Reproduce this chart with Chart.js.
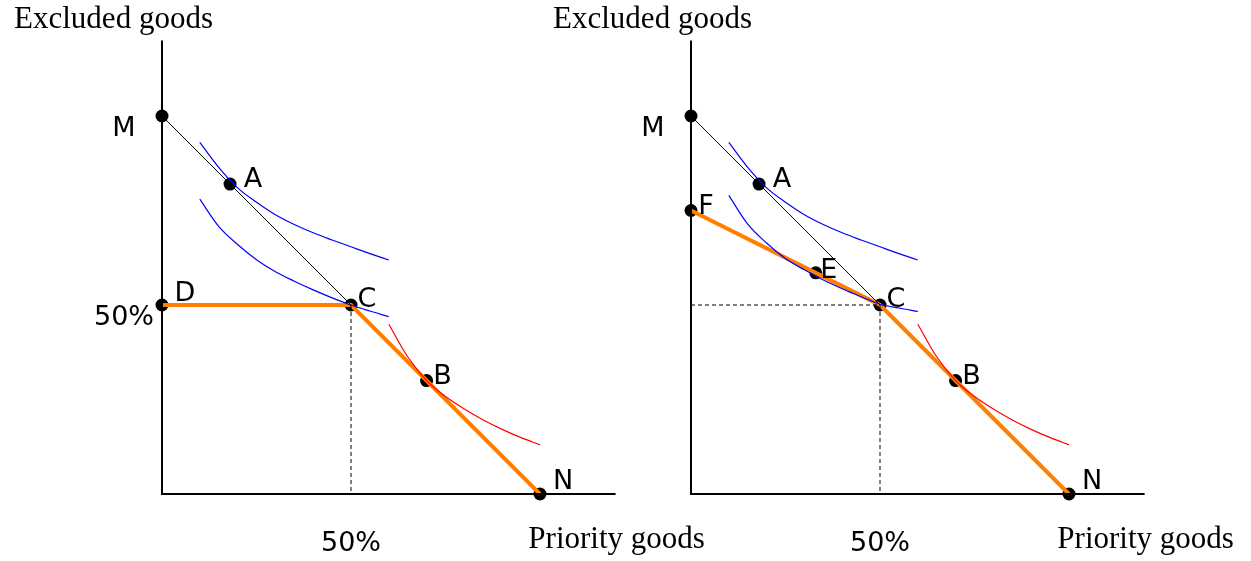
<!DOCTYPE html>
<html lang="en">
<head>
<meta charset="UTF-8">
<title>Excluded vs priority goods</title>
<script src="https://cdn.jsdelivr.net/npm/chart.js"></script>
<style>
    body { margin: 0; background: #ffffff; width: 1251px; height: 561px; position: relative; overflow: hidden; }
    canvas { position: absolute; top: 0; }
    #leftChart { left: 0; }
    #rightChart { left: 529px; }
</style>
</head>
<body>
<canvas id="leftChart" width="722" height="561"></canvas>
<canvas id="rightChart" width="722" height="561"></canvas>
<script>
// axis range (share of goods, %)
const axisMax = 120;
const yAxisTitle = 'Excluded goods';
const xAxisTitle = 'Priority goods';
const tickLabel = '50%';
const tickValue = 50;

// labelled points, left panel
const leftNames = ['M', 'A', 'D', 'C', 'B', 'N'];
const leftX = [0, 18, 0, 50, 70, 100];
const leftY = [100, 82, 50, 50, 30, 0];

// labelled points, right panel
const rightNames = ['M', 'A', 'F', 'E', 'C', 'B', 'N'];
const rightX = [0, 18, 0, 33, 50, 70, 100];
const rightY = [100, 82, 75, 58.5, 50, 30, 0];

// indifference curves
const blueX = [10, 15, 20, 25, 30, 35, 40, 45, 50, 55, 60];
const upperBlueY = [93, 86.4, 81, 77.2, 73.9, 71.3, 69.1, 67.2, 65.4, 63.6, 61.9];
const lowerBlueLeftY = [78, 70.8, 66, 62, 58.8, 56.3, 54, 51.9, 50, 48.4, 46.9];
const lowerBlueRightY = [79, 71.4, 66.4, 62.3, 59.3, 56.6, 54.3, 52.2, 50.2, 49.2, 48.3];
const redX = [60, 65, 70, 75, 80, 85, 90, 95, 100];
const redY = [44.9, 36.3, 30, 25.8, 22.5, 19.6, 17.1, 14.9, 13];

function pts(xs, ys) {
    return xs.map((x, i) => ({ x: x, y: ys[i] }));
}
function pick(names, xs, ys, wanted) {
    return wanted.map(n => { const i = names.indexOf(n); return { x: xs[i], y: ys[i] }; });
}

const blk = '#000000';
const orange = '#ff8000';

function lineSet(data, color, width, extra) {
    return Object.assign({
        type: 'line', data: data, borderColor: color, borderWidth: width,
        pointRadius: 0, fill: false, tension: 0, clip: false
    }, extra || {});
}

const labelPlugin = {
    id: 'labels',
    afterDatasetsDraw(chart) {
        const o = chart.options.plugins.labels;
        const xs = chart.scales.x, ys = chart.scales.y;
        const ctx = chart.ctx;
        ctx.save();
        ctx.fillStyle = '#000';
        ctx.textAlign = 'center';
        ctx.textBaseline = 'middle';
        ctx.font = '27px "DejaVu Sans"';
        o.names.forEach((n, i) => {
            const off = o.offsets[n];
            ctx.fillText(n, xs.getPixelForValue(o.xs[i]) + off[0], ys.getPixelForValue(o.ys[i]) + off[1]);
        });
        // tick labels
        ctx.fillText(tickLabel, xs.getPixelForValue(tickValue), ys.getPixelForValue(0) + 50);
        if (o.yTick) {
            ctx.fillText(tickLabel, xs.getPixelForValue(0) - 38, ys.getPixelForValue(tickValue) + 13);
        }
        // axis titles
        ctx.font = '31px "Liberation Serif"';
        ctx.fillText(yAxisTitle, xs.getPixelForValue(0) + o.yTitleDx, 20);
        ctx.fillText(xAxisTitle, xs.getPixelForValue(axisMax) + 1, ys.getPixelForValue(0) + 46);
        ctx.restore();
    }
};

const offsets = {
    M: [-38, 13], A: [23, -4], D: [23, -11], C: [16, -5], B: [16, -4],
    N: [23, -12], F: [15, -4], E: [13, -2]
};

const curveOpts = { cubicInterpolationMode: 'monotone' };

function makePanel(id, names, xs, ys, orangePath, dashed, lowerY, yTick, yTitleDx) {
    const datasets = [
        lineSet(pts([0, 0, axisMax], [axisMax, 0, 0]), blk, 2),
        lineSet(dashed, blk, 1, { borderDash: [4, 3] }),
        lineSet(pick(names, xs, ys, ['M', 'C']), blk, 1),
        lineSet(pts(blueX, upperBlueY), '#0000ff', 1.2, curveOpts),
        lineSet(pts(blueX, lowerY), '#0000ff', 1.2, curveOpts),
        lineSet(pts(redX, redY), '#ff0000', 1.2, curveOpts),
        lineSet(pick(names, xs, ys, orangePath), orange, 4),
        {
            type: 'scatter', data: pts(xs, ys), backgroundColor: blk, borderColor: blk,
            pointRadius: 6.5, borderWidth: 0, clip: false
        }
    ];
    return new Chart(document.getElementById(id), {
        data: { datasets: datasets },
        options: {
            responsive: false,
            animation: false,
            events: [],
            layout: { padding: { left: 162, right: 106.4, top: 40.4, bottom: 67 } },
            scales: {
                x: { type: 'linear', min: 0, max: axisMax, display: false },
                y: { type: 'linear', min: 0, max: axisMax, display: false }
            },
            plugins: {
                legend: { display: false },
                tooltip: { enabled: false },
                labels: { names: names, xs: xs, ys: ys, offsets: offsets, yTick: yTick, yTitleDx: yTitleDx }
            }
        },
        plugins: [labelPlugin]
    });
}

makePanel('leftChart', leftNames, leftX, leftY, ['D', 'C', 'N'],
    pts([50, 50], [50, 0]), lowerBlueLeftY, true, -48.5);
makePanel('rightChart', rightNames, rightX, rightY, ['F', 'E', 'C', 'N'],
    pts([0, 50, 50], [50, 50, 0]), lowerBlueRightY, false, -38.5);
</script>
</body>
</html>
